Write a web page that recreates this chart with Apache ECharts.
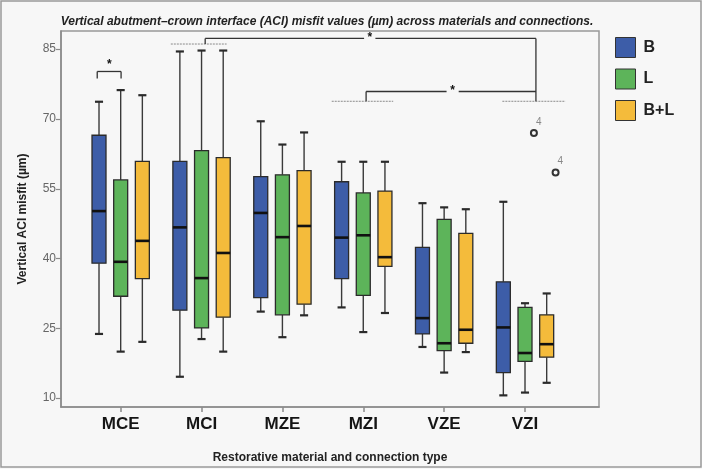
<!DOCTYPE html>
<html>
<head>
<meta charset="utf-8">
<script src="https://cdn.jsdelivr.net/npm/echarts@6/dist/echarts.min.js"></script>
<style>
html,body{margin:0;padding:0;background:#f7f7f7;}
#chart{width:702px;height:469px;}
</style>
</head>
<body>
<div id="chart"></div>
<script>
// ---- data ----
const categories = ['MCE', 'MCI', 'MZE', 'MZI', 'VZE', 'VZI'];
const seriesNames = ['B', 'L', 'B+L'];
const yTicks = [10, 25, 40, 55, 70, 85];
// each row: [min, Q1, median, Q3, max]
const boxB = [
  [23.8, 39.0, 50.2, 66.5, 73.7],
  [14.6, 28.9, 46.7, 60.9, 84.5],
  [28.6, 31.6, 49.8, 57.6, 69.5],
  [29.5, 35.7, 44.5, 56.5, 60.8],
  [21.0, 23.8, 27.2, 42.4, 51.9],
  [10.6, 15.5, 25.2, 35.0, 52.2]
];
const boxL = [
  [20.0, 31.9, 39.3, 56.9, 76.2],
  [22.7, 25.1, 35.8, 63.2, 84.7],
  [23.1, 27.9, 44.6, 58.0, 64.5],
  [24.2, 32.1, 45.0, 54.1, 60.8],
  [15.5, 20.2, 21.8, 48.4, 51.0],
  [11.2, 17.9, 19.7, 29.5, 30.4]
];
const boxBL = [
  [22.1, 35.7, 43.8, 60.9, 75.1],
  [20.0, 27.4, 41.2, 61.7, 84.7],
  [27.8, 30.2, 47.0, 58.9, 67.1],
  [28.3, 38.3, 40.3, 54.5, 60.8],
  [19.9, 21.8, 24.7, 45.4, 50.6],
  [13.3, 18.8, 21.6, 27.9, 32.5]
];
// outliers: [category index, value]
const outliersL = [[5, 67.0]];
const outliersBL = [[5, 58.5]];
const outlierCaseLabel = '4';
const sigMark = '*';

// ---- style / layout ----
const colors = ['#3d5da8', '#5db45a', '#f4bb3b'];
const offsets = [-0.268, 0, 0.268];
const boxW = 0.173, capW = 0.1;
const FONT = '"Liberation Sans", Arial, Helvetica, sans-serif';

const chart = echarts.init(document.getElementById('chart'));

function boxRender(offset, color) {
  return function (params, api) {
    const c = api.value(0) + offset;
    const lo = api.coord([c, api.value(1)]);
    const q1 = api.coord([c, api.value(2)]);
    const md = api.coord([c, api.value(3)]);
    const q3 = api.coord([c, api.value(4)]);
    const hi = api.coord([c, api.value(5)]);
    const w = api.size([boxW, 0])[0];
    const cw = api.size([capW, 0])[0];
    const x = md[0];
    const wl = {stroke: '#3a3a3a', lineWidth: 1.4};
    const cap = {stroke: '#2a2a2a', lineWidth: 2.2};
    return {
      type: 'group',
      children: [
        {type: 'line', shape: {x1: x, y1: hi[1], x2: x, y2: q3[1]}, style: wl},
        {type: 'line', shape: {x1: x, y1: q1[1], x2: x, y2: lo[1]}, style: wl},
        {type: 'line', shape: {x1: x - cw / 2, y1: hi[1], x2: x + cw / 2, y2: hi[1]}, style: cap},
        {type: 'line', shape: {x1: x - cw / 2, y1: lo[1], x2: x + cw / 2, y2: lo[1]}, style: cap},
        {type: 'rect', shape: {x: x - w / 2, y: q3[1], width: w, height: q1[1] - q3[1]},
          style: {fill: color, stroke: '#2b2b2b', lineWidth: 1.3}},
        {type: 'line', shape: {x1: x - w / 2, y1: md[1], x2: x + w / 2, y2: md[1]},
          style: {stroke: '#111', lineWidth: 2.6}}
      ]
    };
  };
}

function bracketRender(params, api) {
  const dash = {stroke: '#8a8a8a', lineWidth: 1, lineDash: [2, 1]};
  const ln = {stroke: '#333', lineWidth: 1.3};
  const P = (x, y) => api.coord([x, y]);
  const L = (a, b, st) => ({type: 'line', shape: {x1: a[0], y1: a[1], x2: b[0], y2: b[1]}, style: st});
  const star = (p) => ({type: 'text', x: p[0], y: p[1],
    style: {text: sigMark, fill: '#111', font: 'bold 12px ' + FONT, align: 'center', verticalAlign: 'middle'}});
  const ch = [];
  // MCE B vs L
  ch.push(L(P(-0.29, 78.7), P(-0.29, 80.2), ln));
  ch.push(L(P(-0.29, 80.2), P(0.005, 80.2), ln));
  ch.push(L(P(0.005, 80.2), P(0.005, 78.7), ln));
  ch.push(star(P(-0.14, 81.6)));
  // dotted group lines
  ch.push(L(P(0.62, 86.1), P(1.31, 86.1), dash));
  ch.push(L(P(2.61, 73.8), P(3.37, 73.8), dash));
  ch.push(L(P(4.72, 73.8), P(5.50, 73.8), dash));
  // MCI vs VZI (top)
  ch.push(L(P(1.045, 86.1), P(1.045, 87.3), ln));
  ch.push(L(P(1.045, 87.3), P(3.01, 87.3), ln));
  ch.push(L(P(3.15, 87.3), P(5.135, 87.3), ln));
  ch.push(L(P(5.135, 87.3), P(5.135, 73.8), ln));
  ch.push(star(P(3.08, 87.5)));
  // MZI vs VZI
  ch.push(L(P(3.035, 73.8), P(3.035, 75.9), ln));
  ch.push(L(P(3.035, 75.9), P(4.03, 75.9), ln));
  ch.push(L(P(4.18, 75.9), P(5.135, 75.9), ln));
  ch.push(star(P(4.105, 76.1)));
  return {type: 'group', children: ch};
}

const boxes = [boxB, boxL, boxBL];
const series = boxes.map((arr, k) => ({
  name: seriesNames[k],
  type: 'custom',
  renderItem: boxRender(offsets[k], colors[k]),
  itemStyle: {color: colors[k], borderColor: '#333', borderWidth: 1},
  encode: {x: 0, y: [1, 2, 3, 4, 5]},
  data: arr.map((d, i) => [i].concat(d)),
  z: 3
}));

const outShift = 0.11;
[[outliersL, 1], [outliersBL, 2]].forEach(([arr, k]) => {
  series.push({
    name: seriesNames[k] + ' outliers',
    type: 'scatter',
    symbol: 'circle',
    symbolSize: 6,
    itemStyle: {color: '#f7f7f7', borderColor: '#333', borderWidth: 2, opacity: 1},
    label: {show: true, formatter: outlierCaseLabel, position: [6, -12], color: '#888', fontSize: 10, fontFamily: FONT},
    data: arr.map(d => [d[0] + offsets[k] + outShift, d[1]]),
    z: 4
  });
});

series.push({
  type: 'custom',
  renderItem: bracketRender,
  data: [[0, 80]],
  encode: {x: 0, y: 1},
  silent: true,
  z: 5
});

chart.setOption({
  backgroundColor: '#f7f7f7',
  animation: false,
  title: {
    text: 'Vertical abutment\u2013crown interface (ACI) misfit values (\u00b5m) across materials and connections.',
    left: 322, top: 11, textAlign: 'center',
    textStyle: {fontFamily: FONT, fontSize: 12, fontStyle: 'italic', fontWeight: 'bold', color: '#222'}
  },
  legend: {
    data: seriesNames.map(n => ({name: n, icon: 'rect'})),
    orient: 'vertical', left: 615, top: 37, padding: 0,
    itemWidth: 20, itemHeight: 20, itemGap: 10.5,
    itemStyle: {borderColor: '#333', borderWidth: 1},
    textStyle: {fontFamily: FONT, fontSize: 16, fontWeight: 'bold', color: '#222', padding: [0, 0, 0, 3]}
  },
  grid: {
    left: 61, right: 103, top: 31, bottom: 56,
    show: true, borderColor: '#999', borderWidth: 1.5, backgroundColor: '#f7f7f7'
  },
  xAxis: {
    type: 'value', min: -0.738, max: 5.915,
    name: 'Restorative material and connection type',
    nameLocation: 'middle', nameGap: 45,
    nameTextStyle: {fontFamily: FONT, fontSize: 12, fontWeight: 'bold', color: '#222'},
    axisLine: {show: true, onZero: false, lineStyle: {color: '#8a8a8a', width: 1.5}},
    axisTick: {show: true, length: 5, lineStyle: {color: '#8a8a8a', width: 1.5}, customValues: categories.map((c, i) => i)},
    axisLabel: {customValues: categories.map((c, i) => i), formatter: v => categories[Math.round(v)] || '',
      fontFamily: FONT, fontSize: 17, fontWeight: 'bold', color: '#151515', margin: 9},
    splitLine: {show: false}
  },
  yAxis: {
    type: 'value', min: 8.1, max: 88.9,
    name: 'Vertical ACI misfit (\u00b5m)',
    nameLocation: 'middle', nameGap: 32, nameRotate: 90,
    nameTextStyle: {fontFamily: FONT, fontSize: 12, fontWeight: 'bold', color: '#222'},
    axisLine: {show: true, onZero: false, lineStyle: {color: '#8a8a8a', width: 1.5}},
    axisTick: {show: true, length: 5, lineStyle: {color: '#8a8a8a', width: 1.2}, customValues: yTicks},
    axisLabel: {customValues: yTicks, fontFamily: FONT, fontSize: 12, color: '#666', margin: 5},
    splitLine: {show: false}
  },
  graphic: [{
    type: 'rect', shape: {x: 1, y: 1, width: 700, height: 466},
    style: {fill: 'none', stroke: '#9a9a9a', lineWidth: 1.5}, silent: true, z: 100
  }],
  series: series
});
</script>
</body>
</html>
